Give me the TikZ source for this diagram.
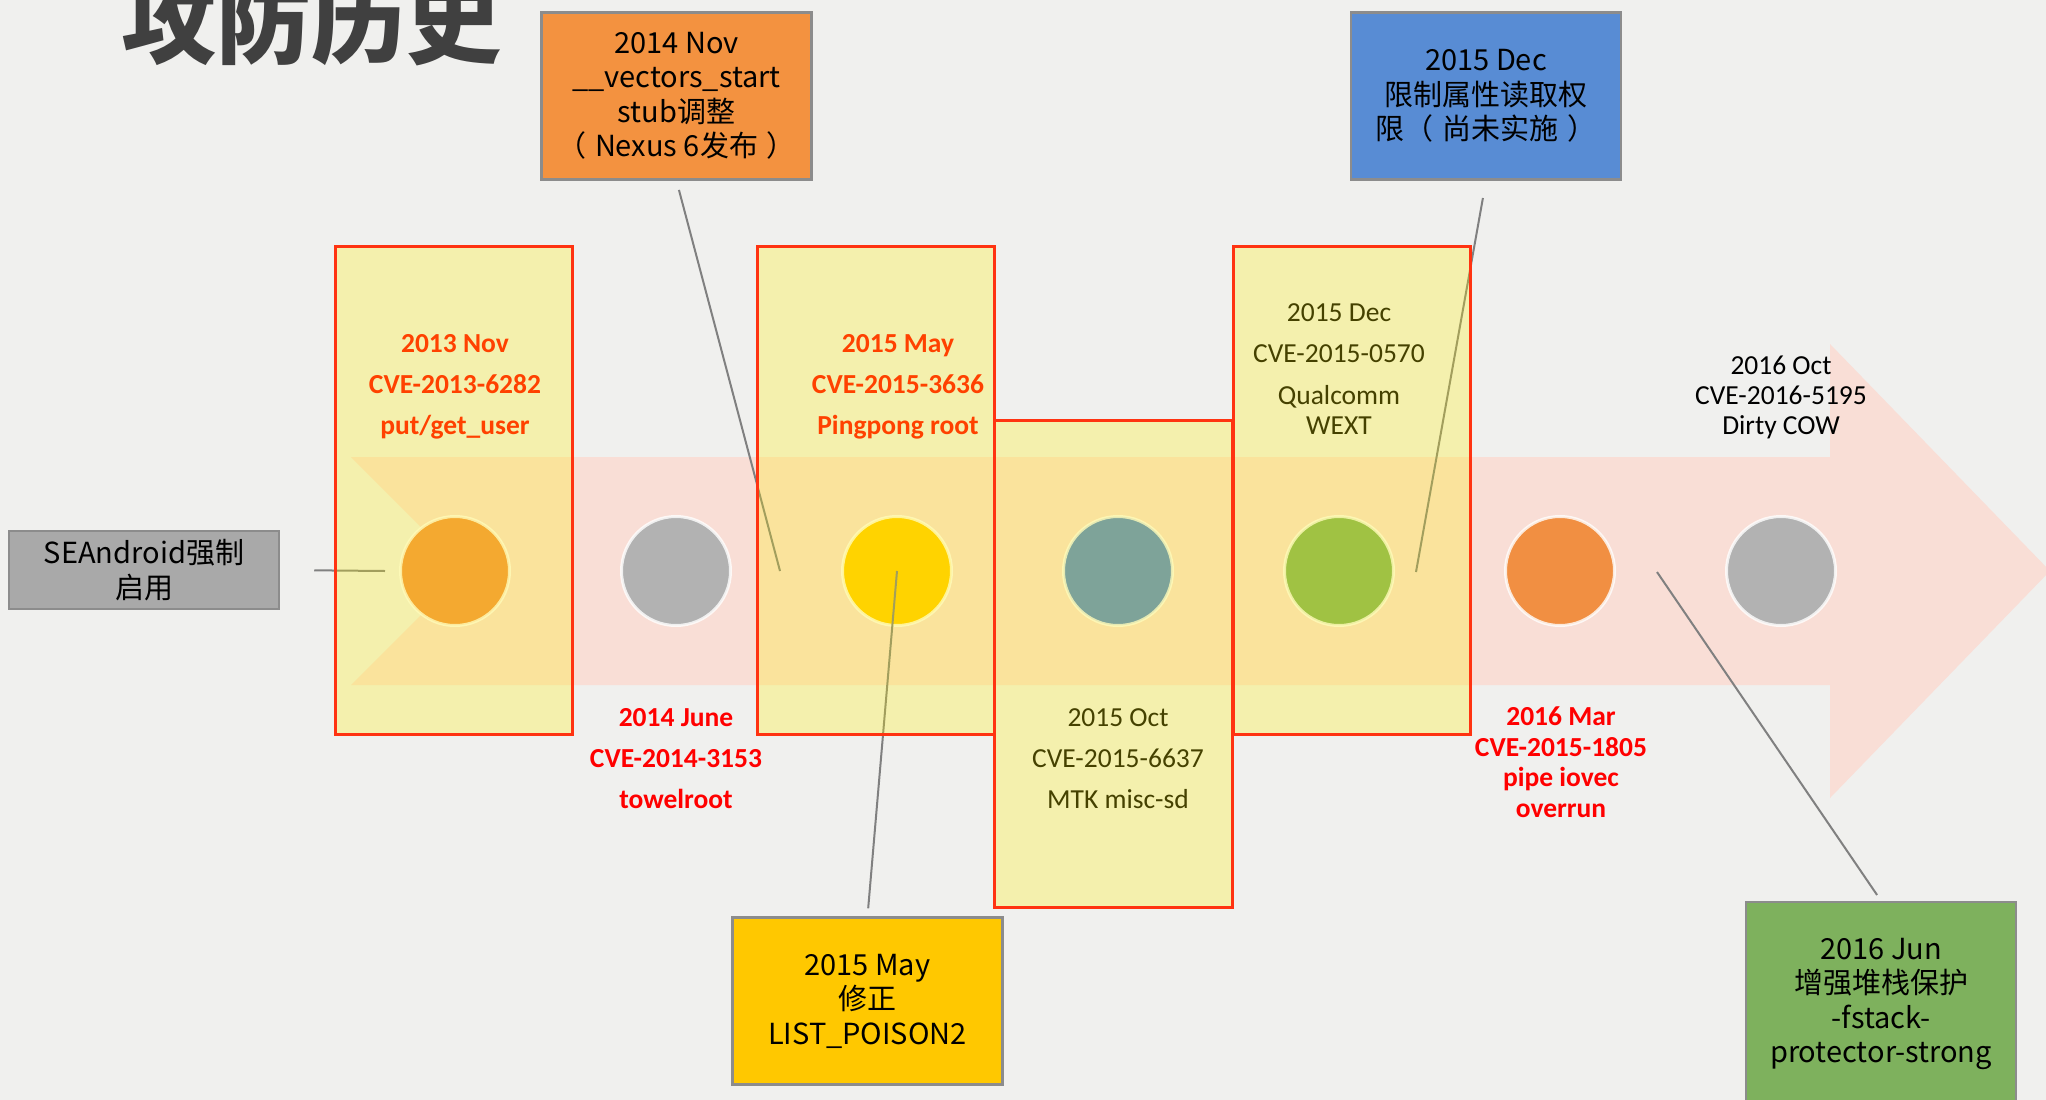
\documentclass[tikz,border=0pt]{standalone}
\usepackage{fontspec}
\setmainfont{Noto Sans CJK SC}
\newfontfamily\calib{Carlito}
\definecolor{bg}{HTML}{F0F0EE}
\definecolor{band}{HTML}{F9DED6}
\definecolor{redline}{HTML}{FF3311}
\definecolor{orng}{HTML}{F18F42}
\definecolor{boxorng}{HTML}{F39240}
\definecolor{gry}{HTML}{B2B2B2}
\definecolor{yel}{HTML}{FFC800}
\definecolor{blu}{HTML}{4F86D2}
\definecolor{grn}{HTML}{7EB15D}
\definecolor{boxline}{HTML}{8C8C8C}
\definecolor{titlegray}{HTML}{404040}
\tikzset{
	dot/.style={circle,draw=white,draw opacity=.8,line width=3pt,minimum size=109pt,inner sep=0pt},
	link/.style={draw=black!50,line width=2pt},
	hl/.style={draw=redline,line width=3pt,fill=yellow,fill opacity=.27},
	card/.style={draw=boxline,line width=2.5pt,minimum width=270pt,minimum height=167pt,align=center,inner sep=0pt,font=\fontsize{29}{34.5}\selectfont},
	lbl/.style={align=center,font=\calib\fontsize{27.5}{30}\selectfont},
}
\begin{document}
\begin{tikzpicture}[x=1pt,y=-1pt]
     		\useasboundingbox (0,0) rectangle (2046,1100);
     		\fill[bg] (0,0) rectangle (2046,1100);
     		\node[anchor=base,text=titlegray,font=\bfseries\fontsize{95}{100}\selectfont] (ttl) at (311,56) {攻防历史};
     		\fill[band] (351,457)--(1830,457)--(1830,344)--(2050,571)--(1830,798)--(1830,685)--(351,685)--(465,571)--cycle;
     		\foreach \c [count=\i] in {orng,gry,yel,blu,grn,orng,gry}{
     		\node[dot,fill=\c] (c\i) at ({455+221*(\i-1)},571) {};}
     		\node[card,fill=gry!95!black,minimum height=78pt] (se) at (144,570) {SEAndroid强制\\启用};
     		\node[card,fill=boxorng] (nov) at (676.5,96) {2014 Nov\\\_\_vectors\_start\\stub调整\\（\hspace{.3em}Nexus 6发布\hspace{.3em}）};
     		\node[card,fill=blu!95!white] (dec) at (1486,96) {2015 Dec\\限制属性读取权\\限（\hspace{.3em}尚未实施\hspace{.3em}）};
     		\node[card,fill=yel] (may) at (867.5,1001) {2015 May\\修正\\LIST\_POISON2};
     		\node[card,fill=grn,minimum height=204pt] (jun) at (1881,1004) {2016 Jun\\增强堆栈保护\\-fstack-\\protector-strong};
     		\coordinate (p0) at (385,571);
     		\coordinate (p2) at (780,571);
     		\coordinate (p5) at (1416,572);
     		\coordinate (p6) at (1657,572);
     		\draw[link,shorten <=34pt] (se.east)--(p0);
     		\draw[link,shorten <=9.5pt] (nov.south)--(p2);
     		\draw[link,shorten <=17.5pt] (dec.south)--(p5);
     		\draw[link,shorten >=8pt] (c3.center)--(may.north);
     		\draw[link,shorten <=7pt] (jun.north)--(p6);
     		\node[lbl,text=red,font=\calib\bfseries\fontsize{27.5}{30}\selectfont] (l1) at (455,387) {2013 Nov\\[11pt]CVE-2013-6282\\[11pt]put/get\_user};
     		\node[lbl,text=red,font=\calib\bfseries\fontsize{27.5}{30}\selectfont] (l2) at (676,759) {2014 June\\[11pt]CVE-2014-3153\\[11pt]towelroot};
     		\node[lbl,text=red,font=\calib\bfseries\fontsize{27.5}{30}\selectfont] (l3) at (898,387) {2015 May\\[11pt]CVE-2015-3636\\[11pt]Pingpong root};
     		\node[lbl,text=black] (l4) at (1118,759) {2015 Oct\\[11pt]CVE-2015-6637\\[11pt]MTK misc-sd};
     		\node[lbl,text=black] (l5) at (1339,369) {2015 Dec\\[11pt]CVE-2015-0570\\[12pt]Qualcomm\\WEXT};
     		\node[lbl,text=red,font=\calib\bfseries\fontsize{27.5}{30.5}\selectfont] (l6) at (1561,762) {2016 Mar\\CVE-2015-1805\\pipe iovec\\overrun};
     		\node[lbl,text=black] (l7) at (1781,397) {2016 Oct\\CVE-2016-5195\\Dirty COW};
     		\draw[hl] (335,246) rectangle (572,734);
     		\draw[hl] (757,246) rectangle (994,734);
     		\draw[hl] (994,420) rectangle (1232,907);
     		\draw[hl] (1233,246) rectangle (1470,734);
		\end{tikzpicture}
\end{document}
